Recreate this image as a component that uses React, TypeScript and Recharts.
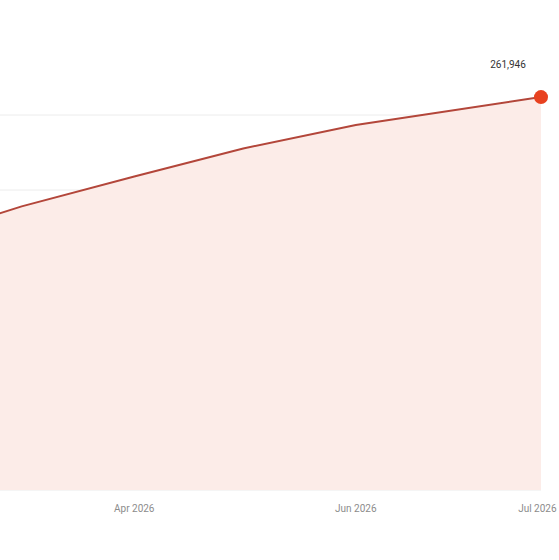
import { Area, AreaChart, CartesianGrid, XAxis, YAxis } from "recharts";

const dates = ["2026-02-01", "2026-03-01", "2026-04-01", "2026-05-01", "2026-06-01", "2026-07-22"];
const values = [167600, 189100, 209000, 227700, 243300, 261946];
const tickDates = ["2026-04-01", "2026-06-01", "2026-07-21"];
const tickLabels = ["Apr 2026", "Jun 2026", "Jul 2026"];
const yTicks = [0, 50000, 100000, 150000, 200000, 250000];

const data = dates.map((d, i) => ({ t: Date.parse(d), value: values[i] }));
const ticks = tickDates.map((d) => Date.parse(d));

const LINE = "#b3463a";
const DOT = "#e8411f";

function EndDot(props: any) {
  const { cx, cy, index, value } = props;
  if (index !== data.length - 1) return null;
  const v = Array.isArray(value) ? value[1] : value;
  return (
    <g>
      <circle cx={cx} cy={cy} r={7} fill={DOT} stroke="none" />
      <text x={cx - 33} y={cy - 29} textAnchor="middle" fontSize={10} fill="#333" fontFamily="Roboto">
        {v.toLocaleString("en-US")}
      </text>
    </g>
  );
}

export default function App() {
  return (
    <div
      style={{
        position: "fixed",
        left: 0,
        top: 0,
        width: 559,
        height: 560,
        overflow: "hidden",
        background: "#fff",
        fontFamily: "Roboto",
      }}
    >
      <div style={{ position: "absolute", left: -80, top: 0 }}>
        <AreaChart width={639} height={560} data={data} margin={{ top: 70, right: 18, left: 0, bottom: 40 }}>
          <CartesianGrid vertical={false} stroke="#ececec" horizontalValues={yTicks} />
          <XAxis
            dataKey="t"
            type="number"
            domain={["dataMin", "dataMax"]}
            ticks={ticks}
            tickFormatter={(t: number) => tickLabels[ticks.indexOf(t)] ?? ""}
            axisLine={false}
            tickLine={false}
            tickSize={0}
            tickMargin={15}
            height={30}
            tick={{ fontSize: 10, fill: "#8c8c8c", fontFamily: "Roboto" }}
          />
          <YAxis hide domain={[0, 280000]} ticks={yTicks} />
          <Area
            type="linear"
            dataKey="value"
            stroke={LINE}
            strokeWidth={2}
            fill="#fcece8"
            fillOpacity={1}
            dot={<EndDot />}
            activeDot={false}
            isAnimationActive={false}
          />
        </AreaChart>
      </div>
    </div>
  );
}
